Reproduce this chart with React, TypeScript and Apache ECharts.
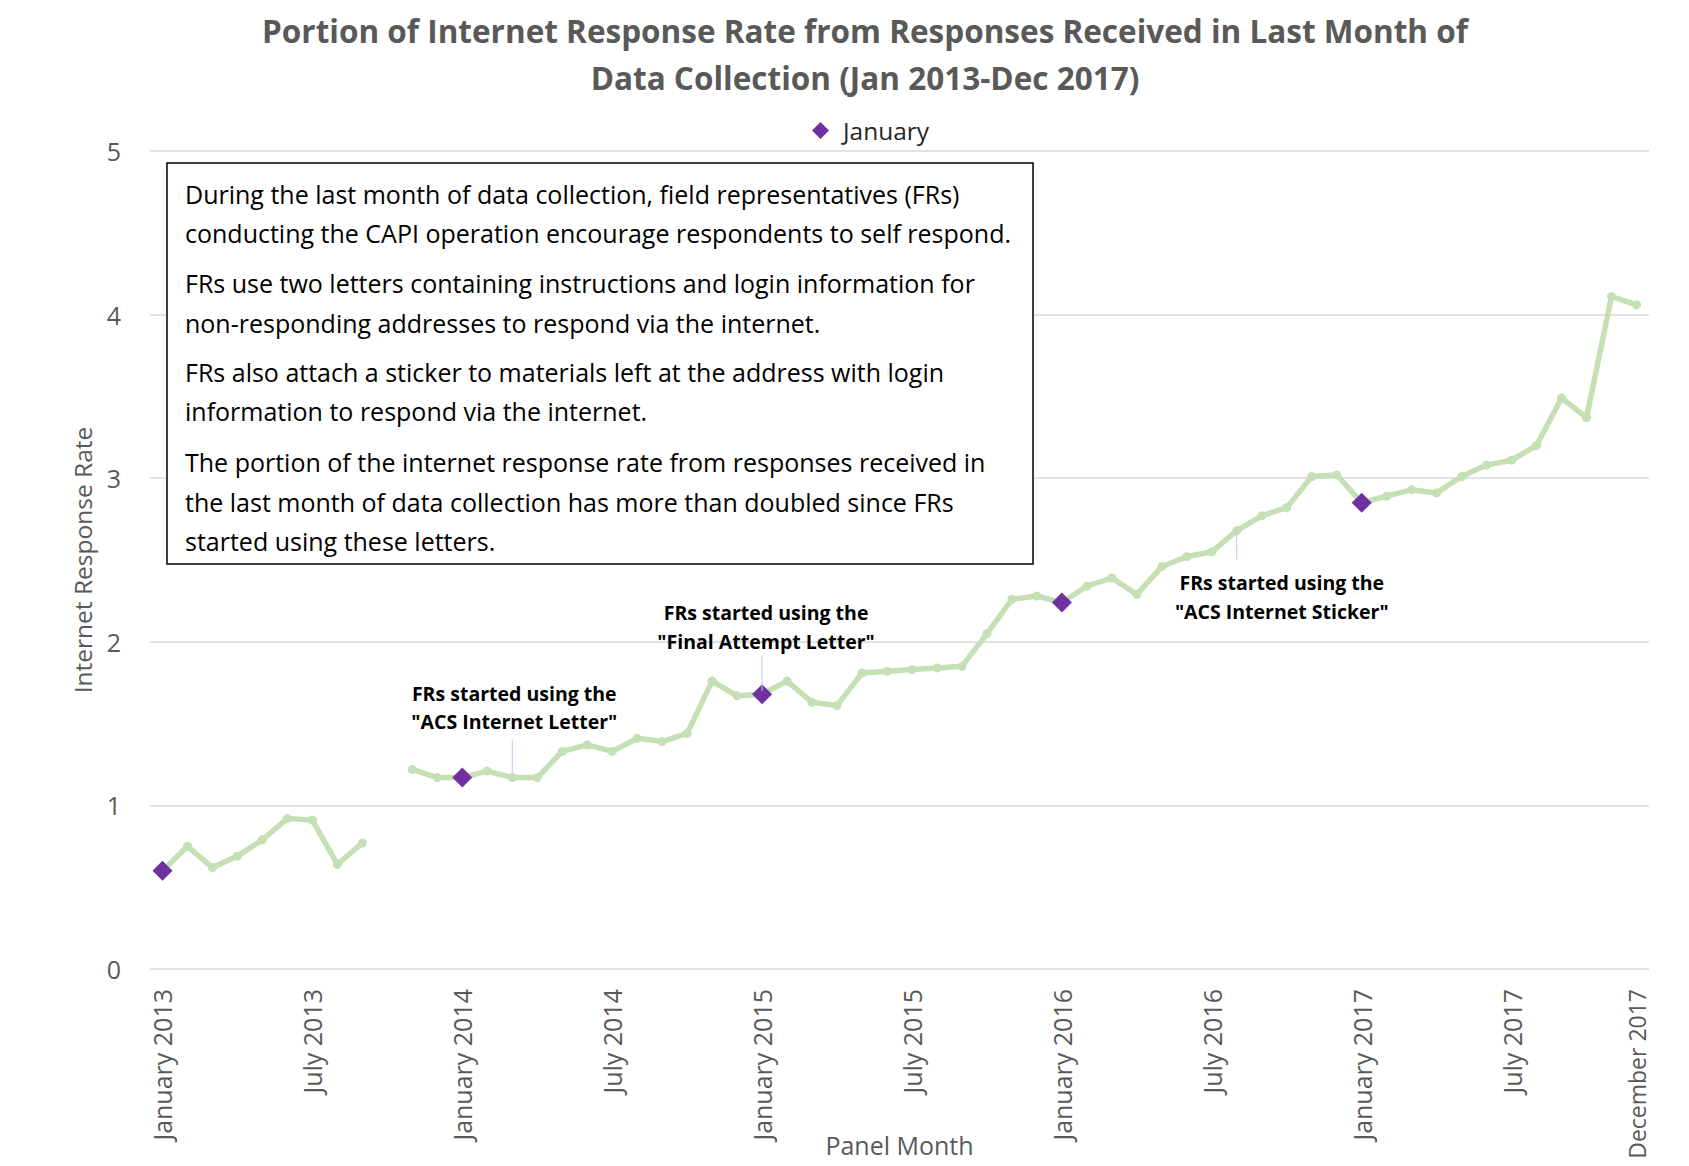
import React, { useEffect, useRef } from "react";
import * as echarts from "echarts";

const monthNames = [
  "January", "February", "March", "April", "May", "June",
  "July", "August", "September", "October", "November", "December",
];
const years = [2013, 2014, 2015, 2016, 2017];
const categories = years.flatMap((y) => monthNames.map((m) => `${m} ${y}`));

// Internet response rate from responses received in the last month of data collection
const rateValues: (number | null)[] = [
  0.60, 0.75, 0.62, 0.69, 0.79, 0.92, 0.91, 0.64, 0.77, null, 1.22, 1.17,
  1.17, 1.21, 1.17, 1.17, 1.33, 1.37, 1.33, 1.41, 1.39, 1.44, 1.76, 1.67,
  1.68, 1.76, 1.63, 1.61, 1.81, 1.82, 1.83, 1.84, 1.85, 2.05, 2.26, 2.28,
  2.24, 2.34, 2.39, 2.29, 2.46, 2.52, 2.55, 2.68, 2.77, 2.82, 3.01, 3.02,
  2.85, 2.89, 2.93, 2.91, 3.01, 3.08, 3.11, 3.20, 3.49, 3.37, 4.11, 4.06,
];

const yTicks = [0, 1, 2, 3, 4, 5];

const titleLines = [
  "Portion of Internet Response Rate from Responses Received in Last Month of",
  "Data Collection (Jan 2013-Dec 2017)",
];

const boxParagraphs = [
  "During the last month of data collection, field representatives (FRs)\nconducting the CAPI operation encourage respondents to self respond.",
  "FRs use two letters containing instructions and login information for\nnon-responding addresses to respond via the internet.",
  "FRs also attach a sticker to materials left at the address with login\ninformation to respond via the internet.",
  "The portion of the internet response rate from responses received in\nthe last month of data collection has more than doubled since FRs\nstarted using these letters.",
];

const annotationMonths = ["March 2014", "January 2015", "August 2016"];
const annotationTexts = [
  ["FRs started using the", '"ACS Internet Letter"'],
  ["FRs started using the", '"Final Attempt Letter"'],
  ["FRs started using the", '"ACS Internet Sticker"'],
];
// pixel offsets relative to the data point (layout only)
const annotationLayout = [
  { dx: 2, textDy: [-84, -56], lead: [-2, -38] },
  { dx: 4, textDy: [-82, -53], lead: [-3, -39] },
  { dx: 45, textDy: [52, 81], lead: [-2, 29] },
];

const FONT = '"Open Sans", sans-serif';

export default function App() {
  const ref = useRef<HTMLDivElement>(null);

  useEffect(() => {
    document.body.style.margin = "0";
    if (!ref.current) return;
    const chart = echarts.init(ref.current, null, { renderer: "svg" });

    const lineData = rateValues.map((v) => (v === null ? "-" : v));
    const januaryData = rateValues.map((v, i) =>
      categories[i].startsWith("January") && v !== null ? v : "-"
    );
    const lastIdx = categories.length - 1;

    chart.setOption({
      animation: false,
      backgroundColor: "#ffffff",
      title: {
        text: titleLines.join("\n"),
        left: 865,
        top: 7,
        textAlign: "center",
        padding: 0,
        textStyle: {
          fontFamily: FONT,
          fontSize: 31.5,
          fontWeight: "bold",
          color: "#595959",
          lineHeight: 47,
        },
      },
      legend: {
        data: ["January"],
        left: 812,
        top: 118,
        padding: 0,
        itemWidth: 17,
        itemHeight: 17,
        textStyle: {
          fontFamily: FONT,
          fontSize: 24.5,
          color: "#262626",
          padding: [0, 0, 0, 9],
        },
      },
      grid: { left: 150, right: 40, top: 151, bottom: 197, outerBoundsMode: "none" },
      xAxis: {
        type: "category",
        data: categories,
        boundaryGap: true,
        axisLine: { show: false },
        axisTick: { show: false },
        axisLabel: {
          interval: (i: number) => i % 6 === 0 || i === lastIdx,
          rotate: 90,
          margin: 20,
          fontFamily: FONT,
          fontSize: 25,
          color: "#595959",
          formatter: (val: string, i: number) => (i === lastIdx ? `{s|${val}}` : val),
          rich: {
            s: { fontFamily: FONT, fontSize: 23, color: "#595959" },
          },
        },
        name: "Panel Month",
        nameLocation: "middle",
        nameGap: 163,
        nameMoveOverlap: false,
        nameTextStyle: { fontFamily: FONT, fontSize: 25, color: "#595959" },
      },
      yAxis: {
        type: "value",
        min: yTicks[0],
        max: yTicks[yTicks.length - 1],
        interval: 1,
        axisLine: { show: false },
        axisTick: { show: false },
        axisLabel: { margin: 29, fontFamily: FONT, fontSize: 25, color: "#595959" },
        splitLine: { lineStyle: { color: "#d9d9d9", width: 1.5 } },
        name: "Internet Response Rate",
        nameLocation: "middle",
        nameGap: 55,
        nameMoveOverlap: false,
        nameTextStyle: { fontFamily: FONT, fontSize: 24.5, color: "#595959" },
      },
      series: [
        {
          name: "Rate",
          type: "line",
          data: lineData,
          connectNulls: false,
          symbol: "circle",
          symbolSize: 9,
          lineStyle: { color: "#C5E0B4", width: 5.5 },
          itemStyle: { color: "#C5E0B4" },
          z: 2,
        },
        {
          name: "January",
          type: "scatter",
          data: januaryData,
          symbol: "diamond",
          symbolSize: 20,
          itemStyle: { color: "#7030A0", opacity: 1 },
          z: 3,
        },
      ],
    });

    const graphics: any[] = [];
    // annotation text box
    graphics.push({
      type: "rect",
      z: 100,
      shape: { x: 167, y: 163, width: 866, height: 401 },
      style: { fill: "#ffffff", stroke: "#000000", lineWidth: 1.5 },
    });
    const paraTops = [174, 263.5, 352, 442.5];
    boxParagraphs.forEach((p, k) => {
      graphics.push({
        type: "text",
        z: 101,
        x: 185,
        y: paraTops[k],
        style: {
          text: p,
          fill: "#000000",
          fontFamily: FONT,
          fontSize: 25,
          lineHeight: 39.5,
          align: "left",
          verticalAlign: "top",
        },
      });
    });

    annotationMonths.forEach((m, k) => {
      const idx = categories.indexOf(m);
      const v = rateValues[idx] as number;
      const [px, py] = chart.convertToPixel({ seriesIndex: 0 }, [idx, v]) as number[];
      const lay = annotationLayout[k];
      graphics.push({
        type: "line",
        z: 50,
        shape: { x1: px, y1: py + lay.lead[0], x2: px, y2: py + lay.lead[1] },
        style: { stroke: "#c4c4f4", lineWidth: 1 },
      });
      annotationTexts[k].forEach((t, j) => {
        graphics.push({
          type: "text",
          z: 50,
          x: px + lay.dx,
          y: py + lay.textDy[j],
          style: {
            text: t,
            fill: "#000000",
            fontFamily: FONT,
            fontSize: 19.5,
            fontWeight: "bold",
            align: "center",
            verticalAlign: "middle",
          },
        });
      });
    });

    chart.setOption({ graphic: graphics });

    return () => chart.dispose();
  }, []);

  return <div ref={ref} style={{ width: 1689, height: 1166 }} />;
}
